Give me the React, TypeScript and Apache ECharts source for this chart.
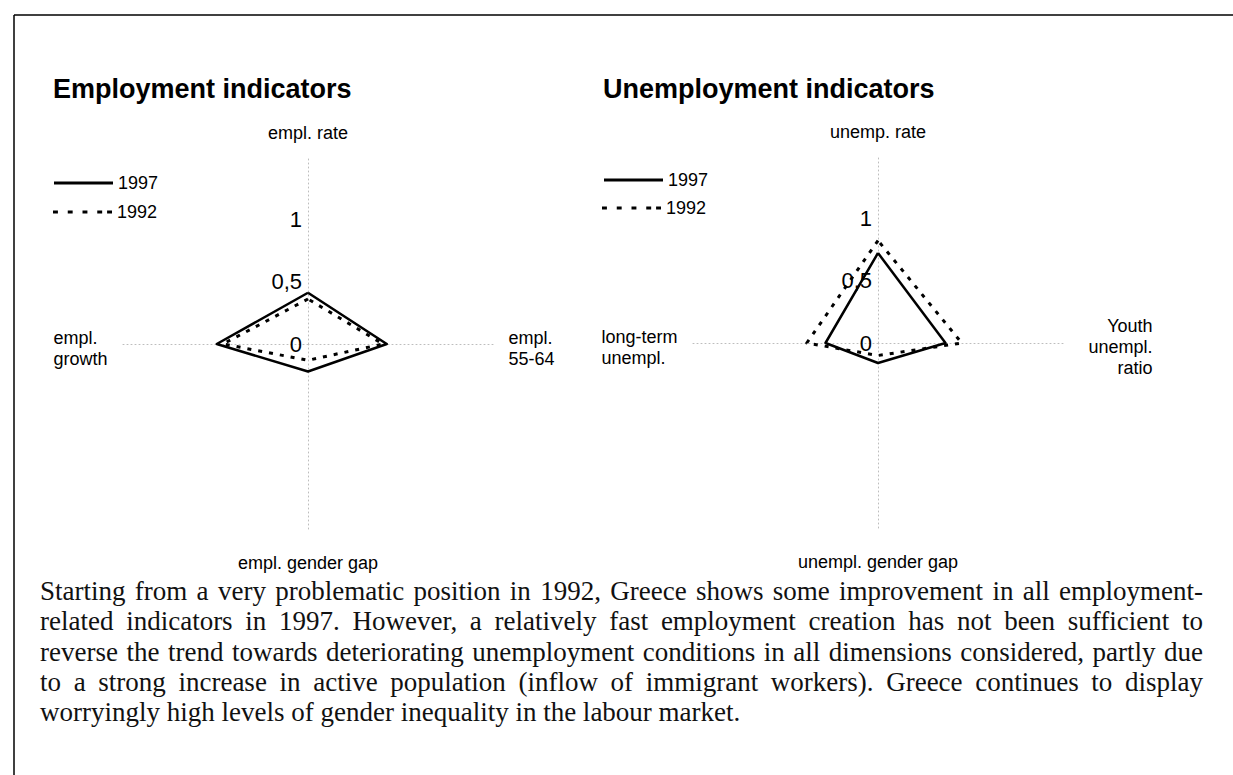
import React, { useEffect, useRef } from 'react';
import * as echarts from 'echarts';

// ---------- data ----------
const titles = ['Employment indicators', 'Unemployment indicators'];
const years = ['1997', '1992'];

// indicators listed counter-clockwise from the top: top, left, bottom, right
const empIndicators = ['empl. rate', 'empl.\ngrowth', 'empl. gender gap', 'empl.\n55-64'];
const emp1997 = [0.41, 0.73, 0.22, 0.63];
const emp1992 = [0.36, 0.68, 0.13, 0.6];

const unempIndicators = ['unemp. rate', 'long-term\nunempl.', 'unempl. gender gap', 'Youth\nunempl.\nratio'];
const unemp1997 = [0.72, 0.42, 0.16, 0.54];
const unemp1992 = [0.82, 0.57, 0.1, 0.67];

const axisMin = 0;
const axisMax = 1.5;
const axisSplits = 3;

const paragraphLines = [
  'Starting from a very problematic position in 1992, Greece shows some improvement in all employment-',
  'related indicators in 1997. However, a relatively fast employment creation has not been sufficient to',
  'reverse the trend towards deteriorating unemployment conditions in all dimensions considered, partly due',
  'to a strong increase in active population (inflow of immigrant workers). Greece continues to display',
  'worryingly high levels of gender inequality in the labour market.',
];

// ---------- styles ----------
const SANS = '"Liberation Sans", Arial, sans-serif';
const SERIF = '"Liberation Serif", "Times New Roman", serif';
const SOLID_ICON = 'path://M0,0h60v3h-60z';
const DASH_ICON = 'path://M0,0h5v3h-5zM15,0h5v3h-5zM30,0h5v3h-5zM45,0h5v3h-5zM55,0h5v3h-5z';

function makeRadar(center: number[], names: string[], rightAligned: string[]) {
  return {
    center,
    radius: 187.5,
    startAngle: 90,
    splitNumber: axisSplits,
    shape: 'polygon',
    nameGap: 13,
    indicator: names.map((n, i) => ({
      name: n,
      min: axisMin,
      max: axisMax,
      axisLabel: { show: i === 0 },
    })),
    axisName: {
      color: '#000',
      fontSize: 18,
      fontFamily: SANS,
      padding: [8, 0, 0, 0],
      formatter: (name: string) => {
        const key = rightAligned.indexOf(name) >= 0 ? 'r' : 'n';
        return name
          .split('\n')
          .map((l) => '{' + key + '|' + l + '}')
          .join('\n');
      },
      rich: {
        n: { fontSize: 18, fontFamily: SANS, color: '#000', lineHeight: 21, align: 'left' },
        r: { fontSize: 18, fontFamily: SANS, color: '#000', lineHeight: 21, align: 'right', padding: [0, 0, 0, 10] },
      },
    },
    axisLine: { show: true, lineStyle: { color: '#bdbdbd', type: [1, 3], width: 1 } },
    axisTick: { show: false },
    splitLine: { show: false },
    splitArea: { show: false },
    axisLabel: {
      show: false,
      color: '#000',
      fontSize: 22,
      fontFamily: SANS,
      margin: 6,
      showMinLabel: true,
      showMaxLabel: false,
      formatter: (v: number) => (v >= axisMax ? '' : String(v).replace('.', ',')),
    },
  };
}

function makeSeries(radarIndex: number, name: string, values: number[], dashed: boolean) {
  return {
    type: 'radar',
    radarIndex,
    name,
    symbol: 'none',
    itemStyle: { color: '#000' },
    lineStyle: { color: '#000', width: dashed ? 3 : 2.5, type: dashed ? [4, 7] : 'solid' },
    data: [{ name, value: values }],
  };
}

function makeLegend(name: string, icon: string, left: number, top: number) {
  return {
    data: [{ name, icon }],
    left,
    top,
    padding: 0,
    orient: 'vertical',
    itemWidth: 59,
    itemHeight: 3,
    selectedMode: false,
    itemStyle: { color: '#000', borderWidth: 0 },
    lineStyle: { width: 0 },
    textStyle: { color: '#000', fontSize: 18, fontFamily: SANS },
  };
}

export default function App() {
  const ref = useRef<HTMLDivElement>(null);

  useEffect(() => {
    if (!ref.current) return;
    const chart = echarts.init(ref.current, undefined, { renderer: 'svg' });
    chart.setOption({
      animation: false,
      backgroundColor: '#fff',
      title: [
        {
          text: titles[0],
          left: 53,
          top: 75,
          padding: 0,
          textStyle: { color: '#000', fontSize: 27, fontWeight: 'bold', fontFamily: SANS },
        },
        {
          text: titles[1],
          left: 603,
          top: 75,
          padding: 0,
          textStyle: { color: '#000', fontSize: 27, fontWeight: 'bold', fontFamily: SANS },
        },
      ],
      legend: [
        makeLegend(years[0], SOLID_ICON, 54, 174),
        makeLegend(years[1], DASH_ICON, 53, 203),
        makeLegend(years[0], SOLID_ICON, 604, 171),
        makeLegend(years[1], DASH_ICON, 602, 199),
      ],
      radar: [makeRadar([308, 344], empIndicators, []), makeRadar([878, 343], unempIndicators, [unempIndicators[3]])],
      series: [
        makeSeries(0, years[1], emp1992, true),
        makeSeries(0, years[0], emp1997, false),
        makeSeries(1, years[1], unemp1992, true),
        makeSeries(1, years[0], unemp1997, false),
      ],
      graphic: [
        { type: 'line', shape: { x1: 14, y1: 15, x2: 1233, y2: 15 }, style: { stroke: '#000', lineWidth: 1.5 } },
        { type: 'line', shape: { x1: 14, y1: 15, x2: 14, y2: 775 }, style: { stroke: '#000', lineWidth: 1.5 } },
      ],
    });
    return () => chart.dispose();
  }, []);

  return (
    <div>
      <div ref={ref} style={{ position: 'absolute', left: 0, top: 0, width: 1233, height: 775 }} />
      <div
        style={{
          position: 'absolute',
          left: 40,
          top: 576,
          width: 1163,
          fontFamily: SERIF,
          fontSize: 27,
          lineHeight: '30.25px',
          color: '#111',
        }}
      >
        {paragraphLines.map((line, i) => (
          <div
            key={i}
            style={{
              textAlign: 'justify',
              textAlignLast: i === paragraphLines.length - 1 ? 'left' : 'justify',
              whiteSpace: 'nowrap',
            }}
          >
            {line}
          </div>
        ))}
      </div>
    </div>
  );
}
